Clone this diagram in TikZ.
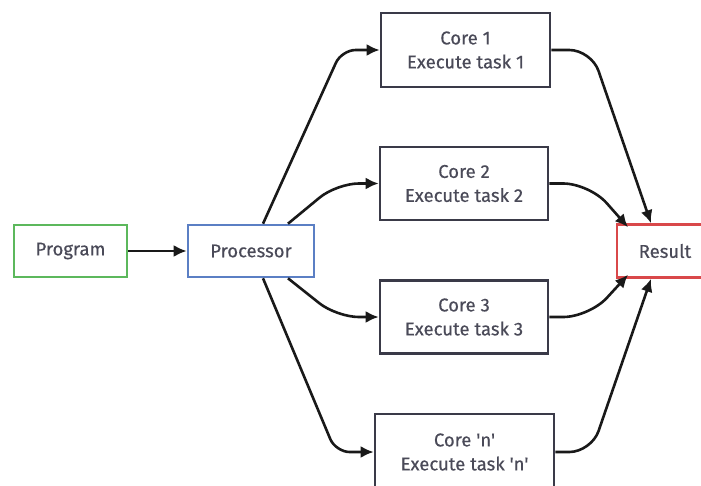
\documentclass[tikz,border=0pt]{standalone}
\usepackage{fontspec}
\setmainfont{Fira Sans}[Ligatures=TeXOff, FakeBold=0.4]
\usetikzlibrary{arrows.meta}
\definecolor{pgreen}{HTML}{5CB85C}
\definecolor{pblue}{HTML}{5B7FC4}
\definecolor{pred}{HTML}{D9484A}
\definecolor{pdark}{HTML}{3A3A48}
\definecolor{ptext}{HTML}{4A4A58}
\begin{document}
\begin{tikzpicture}[x=1pt,y=-1pt,
  box/.style={draw, line width=2.6pt, fill=white, text=ptext, align=center,
    inner sep=0pt, font=\fontsize{18.5}{24}\selectfont},
  arr/.style={-{Latex[length=13pt,width=12pt]}, line width=2.6pt, draw=black!90}]
\useasboundingbox (0,0) rectangle (701,485);
\node[box, draw=pgreen, minimum width=113pt, minimum height=52pt] (prog) at (70.5,251) {Program};
\node[box, draw=pblue, minimum width=126pt, minimum height=52pt] (proc) at (251,251) {Processor};
\node[box, draw=pdark, minimum width=169pt, minimum height=74pt] (c1) at (465.5,50) {Core 1\\Execute task 1};
\node[box, draw=pdark, minimum width=168pt, minimum height=73pt] (c2) at (464,183.5) {Core 2\\Execute task 2};
\node[box, draw=pdark, minimum width=168pt, minimum height=73pt] (c3) at (464,317) {Core 3\\Execute task 3};
\node[box, draw=pdark, minimum width=179pt, minimum height=76pt] (cn) at (464.5,452) {Core 'n'\\Execute task 'n'};
\node[box, draw=pred, minimum width=96pt, minimum height=53pt] (res) at (665,251) {Result};
\draw[arr] (prog.east) -- (proc.west);
\draw[arr, rounded corners=14pt] ([xshift=12pt]proc.north) -- ([xshift=-38pt]c1.west) -- (c1.west);
\draw[arr, rounded corners=22pt] ([xshift=37pt]proc.north) -- ([xshift=-42pt]c2.west) -- (c2.west);
\draw[arr, rounded corners=22pt] ([xshift=37pt]proc.south) -- ([xshift=-42pt]c3.west) -- (c3.west);
\draw[arr, rounded corners=14pt] ([xshift=12pt]proc.south) -- ([xshift=-38pt]cn.west) -- (cn.west);
\draw[arr, rounded corners=22pt] (c1.east) -- ([xshift=40pt]c1.east) -- ([xshift=-14pt]res.north);
\draw[arr, rounded corners=26pt] (c2.east) -- ([xshift=40pt]c2.east) -- ([xshift=-37pt,yshift=-4pt]res.north);
\draw[arr, rounded corners=26pt] (c3.east) -- ([xshift=40pt]c3.east) -- ([xshift=-37pt,yshift=4pt]res.south);
\draw[arr, rounded corners=22pt] (cn.east) -- ([xshift=36pt]cn.east) -- ([xshift=-14pt]res.south);
\end{tikzpicture}
\end{document}
